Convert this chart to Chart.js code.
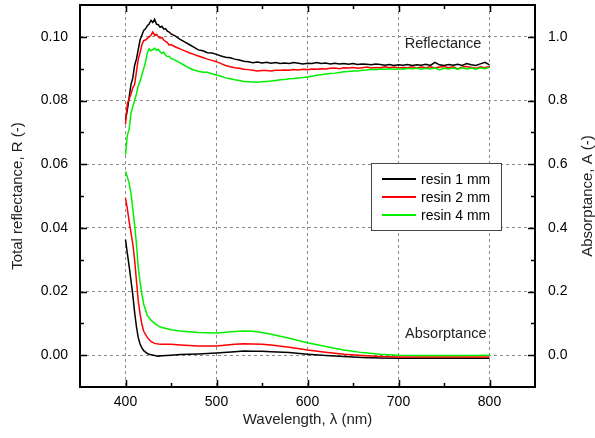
<!DOCTYPE html>
<html>
<head>
<meta charset="utf-8">
<script src="https://cdn.jsdelivr.net/npm/chart.js@4.4.1/dist/chart.umd.min.js"></script>
<style>
  html, body { margin: 0; padding: 0; background: #fff; }
</style>
</head>
<body>
<canvas id="chart" width="595" height="438"></canvas>
<script>
// wavelengths (nm) for the reflectance spectra
const R_WL = [
  400, 402, 404, 406, 408, 410, 412, 414, 416, 418,
  420, 422, 424, 426, 428, 430, 432, 434, 436, 438,
  440, 442, 444, 446, 448, 450,
  455, 460, 465, 470, 475, 480, 485, 490, 495, 500,
  505, 510, 515, 520, 525, 530, 535, 540, 545, 550,
  555, 560, 565, 570, 575, 580, 585, 590, 595, 600,
  605, 610, 615, 620, 625, 630, 635, 640, 645, 650,
  655, 660, 665, 670, 675, 680, 685, 690, 695, 700,
  705, 710, 715, 720, 725, 730, 735, 740, 745, 750,
  755, 760, 765, 770, 775, 780, 785, 790, 795, 800
];

// total reflectance R (-), left axis
const R_1MM = [
  0.0740, 0.0770, 0.0810, 0.0850, 0.0870, 0.0910, 0.0930, 0.0960, 0.0990, 0.1005,
  0.1020, 0.1025, 0.1035, 0.1040, 0.1052, 0.1045, 0.1055, 0.1040, 0.1038, 0.1030,
  0.1033, 0.1024, 0.1026, 0.1018, 0.1015, 0.1009,
  0.1002, 0.0992, 0.0984, 0.0976, 0.0968, 0.0959, 0.0956, 0.0950, 0.0949, 0.0945,
  0.0940, 0.0936, 0.0934, 0.0930, 0.0927, 0.0923, 0.0922, 0.0919, 0.0921, 0.0918,
  0.0920, 0.0917, 0.0919, 0.0916, 0.0918, 0.0916, 0.0919, 0.0917, 0.0915, 0.0917,
  0.0916, 0.0919, 0.0916, 0.0918, 0.0915, 0.0917, 0.0915, 0.0916, 0.0914, 0.0916,
  0.0913, 0.0915, 0.0914, 0.0912, 0.0915, 0.0913, 0.0911, 0.0913, 0.0910, 0.0912,
  0.0911, 0.0913, 0.0910, 0.0912, 0.0911, 0.0914, 0.0910, 0.0920, 0.0912, 0.0910,
  0.0913, 0.0911, 0.0914, 0.0910, 0.0916, 0.0912, 0.0910, 0.0915, 0.0920, 0.0912
];
const R_2MM = [
  0.0725, 0.0790, 0.0805, 0.0820, 0.0840, 0.0850, 0.0890, 0.0930, 0.0950, 0.0975,
  0.0988, 0.0990, 0.0995, 0.1000, 0.1005, 0.1015, 0.1005, 0.1008, 0.1000, 0.0996,
  0.0998, 0.0990, 0.0986, 0.0982, 0.0974, 0.0976,
  0.0968, 0.0962, 0.0956, 0.0950, 0.0945, 0.0940, 0.0935, 0.0930, 0.0926, 0.0922,
  0.0916, 0.0910, 0.0906, 0.0903, 0.0901, 0.0898, 0.0897, 0.0895, 0.0893, 0.0894,
  0.0894, 0.0893, 0.0895, 0.0895, 0.0896, 0.0895, 0.0897, 0.0896, 0.0898, 0.0897,
  0.0899, 0.0898, 0.0900, 0.0899, 0.0901, 0.0902, 0.0900, 0.0903, 0.0902, 0.0904,
  0.0901, 0.0903, 0.0905, 0.0902, 0.0904, 0.0903, 0.0906, 0.0903, 0.0905, 0.0902,
  0.0904, 0.0903, 0.0906, 0.0902, 0.0905, 0.0903, 0.0906, 0.0902, 0.0905, 0.0907,
  0.0903, 0.0906, 0.0899, 0.0905, 0.0907, 0.0904, 0.0901, 0.0906, 0.0903, 0.0907
];
const R_4MM = [
  0.0630, 0.0690, 0.0710, 0.0760, 0.0780, 0.0800, 0.0820, 0.0846, 0.0860, 0.0880,
  0.0900, 0.0920, 0.0950, 0.0962, 0.0956, 0.0960, 0.0964, 0.0958, 0.0961, 0.0953,
  0.0948, 0.0952, 0.0942, 0.0938, 0.0939, 0.0932,
  0.0926, 0.0918, 0.0910, 0.0902, 0.0896, 0.0892, 0.0889, 0.0889, 0.0884, 0.0880,
  0.0876, 0.0871, 0.0868, 0.0865, 0.0863, 0.0860, 0.0859, 0.0858, 0.0857, 0.0859,
  0.0860, 0.0861, 0.0863, 0.0865, 0.0866, 0.0868, 0.0869, 0.0871, 0.0872, 0.0874,
  0.0876, 0.0879, 0.0881, 0.0883, 0.0885, 0.0886, 0.0888, 0.0890, 0.0891, 0.0893,
  0.0893, 0.0895, 0.0896, 0.0898, 0.0897, 0.0899, 0.0898, 0.0900, 0.0898, 0.0900,
  0.0898, 0.0901, 0.0899, 0.0902, 0.0898, 0.0901, 0.0899, 0.0902, 0.0897, 0.0901,
  0.0899, 0.0902, 0.0898, 0.0903, 0.0899, 0.0902, 0.0898, 0.0903, 0.0900, 0.0904
];

// wavelengths (nm) for the absorptance spectra
const A_WL = [
  400, 402, 404, 406, 408, 410, 412, 414, 416, 418, 420,
  424, 428, 432, 436, 440,
  450, 460, 480,
  500, 520, 530, 540, 550, 560,
  580, 600, 620, 640, 660, 680, 700, 720, 740, 760, 780, 800
];

// absorptance A (-), right axis
const A_1MM = [
  0.363, 0.320, 0.280, 0.235, 0.190, 0.135, 0.090, 0.055, 0.035, 0.023, 0.014,
  0.005, 0.001, -0.001, -0.003, -0.002,
  0.000, 0.002, 0.004,
  0.007, 0.011, 0.013, 0.012, 0.012, 0.011,
  0.008, 0.003, -0.001, -0.004, -0.007, -0.009, -0.010, -0.010, -0.010, -0.010, -0.010, -0.010
];
const A_2MM = [
  0.493, 0.460, 0.420, 0.385, 0.350, 0.300, 0.235, 0.171, 0.130, 0.097, 0.075,
  0.055, 0.043, 0.037, 0.035, 0.034,
  0.034, 0.032, 0.029,
  0.029, 0.034, 0.036, 0.035, 0.034, 0.032,
  0.025, 0.016, 0.009, 0.003, -0.001, -0.004, -0.006, -0.006, -0.006, -0.006, -0.006, -0.006
];
const A_4MM = [
  0.577, 0.560, 0.540, 0.510, 0.460, 0.410, 0.350, 0.276, 0.230, 0.192, 0.160,
  0.125, 0.110, 0.100, 0.092, 0.087,
  0.080, 0.076, 0.071,
  0.070, 0.074, 0.076, 0.075, 0.071, 0.066,
  0.053, 0.039, 0.027, 0.016, 0.008, 0.003, 0.000, -0.001, -0.001, -0.001, -0.001, 0.000
];

const SERIES_NAMES = ['resin 1 mm', 'resin 2 mm', 'resin 4 mm'];
const SERIES_COLORS = ['#000000', '#ff0000', '#00f000'];

// tick labels
const X_TICKS = [400, 500, 600, 700, 800];
const X_MINOR = [450, 550, 650, 750];
const R_TICKS = [0.00, 0.02, 0.04, 0.06, 0.08, 0.10];
const R_MINOR = [0.01, 0.03, 0.05, 0.07, 0.09];
const A_TICKS = [0.0, 0.2, 0.4, 0.6, 0.8, 1.0];

const FONT = '"Liberation Sans", Arial, sans-serif';
const pts = (xs, ys) => xs.map((x, i) => ({ x, y: ys[i] }));

function line(name, color, xs, ys, axis, order) {
  return {
    label: name,
    data: pts(xs, ys),
    yAxisID: axis,
    borderColor: color,
    borderWidth: 1.5,
    pointRadius: 0,
    tension: 0,
    fill: false,
    order: order
  };
}

function noPad(s) {
  s.paddingTop = 0;
  s.paddingBottom = 0;
  s.paddingLeft = 0;
  s.paddingRight = 0;
}

// frame, inward tick marks, text labels, right title and legend box
const decor = {
  id: 'decor',
  afterDraw(chart) {
    const { ctx, chartArea: a, scales: { x, y } } = chart;
    ctx.save();
    ctx.strokeStyle = '#000';
    ctx.lineWidth = 1.5;
    ctx.beginPath();
    const tick = (px, len, vertical) => {
      if (vertical) {
        ctx.moveTo(px, a.bottom); ctx.lineTo(px, a.bottom - len);
        ctx.moveTo(px, a.top); ctx.lineTo(px, a.top + len);
      } else {
        ctx.moveTo(a.left, px); ctx.lineTo(a.left + len, px);
        ctx.moveTo(a.right, px); ctx.lineTo(a.right - len, px);
      }
    };
    X_TICKS.forEach(v => tick(Math.round(x.getPixelForValue(v)) + 0.5, 7, true));
    X_MINOR.forEach(v => tick(Math.round(x.getPixelForValue(v)) + 0.5, 4, true));
    R_TICKS.forEach(v => tick(Math.round(y.getPixelForValue(v)) + 0.5, 7, false));
    R_MINOR.forEach(v => tick(Math.round(y.getPixelForValue(v)) + 0.5, 4, false));
    ctx.stroke();

    ctx.lineWidth = 2;
    ctx.strokeRect(a.left, a.top, a.right - a.left, a.bottom - a.top);

    ctx.fillStyle = '#222';
    ctx.font = '14.5px ' + FONT;
    ctx.textAlign = 'center';
    ctx.textBaseline = 'middle';
    ctx.fillText('Reflectance', x.getPixelForValue(749), y.getPixelForValue(0.0978));
    ctx.fillText('Absorptance', x.getPixelForValue(752), y.getPixelForValue(0.0066));

    // right axis title, read bottom to top like the left one
    ctx.save();
    ctx.translate(588, (a.top + a.bottom) / 2);
    ctx.rotate(-Math.PI / 2);
    ctx.font = '15px ' + FONT;
    ctx.fillText('Absorptance, A (-)', 0, 0);
    ctx.restore();

    // legend
    const lx = 371, ly = 163, lw = 130, lh = 67;
    ctx.fillStyle = '#fff';
    ctx.fillRect(lx, ly, lw, lh);
    ctx.strokeStyle = '#444';
    ctx.lineWidth = 1;
    ctx.strokeRect(lx + 0.5, ly + 0.5, lw, lh);
    ctx.font = '14px ' + FONT;
    ctx.textAlign = 'left';
    SERIES_NAMES.forEach((name, i) => {
      const yy = ly + 16 + i * 18;
      ctx.strokeStyle = SERIES_COLORS[i];
      ctx.lineWidth = 2;
      ctx.beginPath();
      ctx.moveTo(382, yy);
      ctx.lineTo(416, yy);
      ctx.stroke();
      ctx.fillStyle = '#000';
      ctx.fillText(name, 421, yy + 1);
    });
    ctx.restore();
  }
};

new Chart(document.getElementById('chart'), {
  type: 'line',
  data: {
    datasets: [
      line(SERIES_NAMES[0], SERIES_COLORS[0], R_WL, R_1MM, 'y', 2),
      line(SERIES_NAMES[1], SERIES_COLORS[1], R_WL, R_2MM, 'y', 1),
      line(SERIES_NAMES[2], SERIES_COLORS[2], R_WL, R_4MM, 'y', 0),
      line(SERIES_NAMES[0], SERIES_COLORS[0], A_WL, A_1MM, 'y2', 2),
      line(SERIES_NAMES[1], SERIES_COLORS[1], A_WL, A_2MM, 'y2', 1),
      line(SERIES_NAMES[2], SERIES_COLORS[2], A_WL, A_4MM, 'y2', 0)
    ]
  },
  options: {
    responsive: false,
    animation: false,
    devicePixelRatio: 1,
    layout: { padding: { top: 5, left: 0, right: 0, bottom: 0 } },
    plugins: { legend: { display: false }, tooltip: { enabled: false } },
    scales: {
      x: {
        type: 'linear',
        min: 350,
        max: 850,
        afterBuildTicks: s => { s.ticks = X_TICKS.map(v => ({ value: v })); },
        afterFit: s => { s.height = 51; noPad(s); },
        ticks: { color: '#000', font: { family: FONT, size: 14 }, padding: 7, maxRotation: 0, autoSkip: false },
        grid: { color: '#8a8a8a', lineWidth: 1, drawTicks: false },
        border: { display: false, dash: [3, 3] },
        title: {
          display: true, text: 'Wavelength, \u03bb (nm)', color: '#222',
          font: { family: FONT, size: 15, lineHeight: 1 }, padding: { top: 0, bottom: 10.5 }
        }
      },
      y: {
        position: 'left',
        min: -0.01,
        max: 0.11,
        afterBuildTicks: s => { s.ticks = R_TICKS.map(v => ({ value: v })); },
        afterFit: s => { s.width = 80; noPad(s); },
        ticks: { color: '#000', font: { family: FONT, size: 14 }, padding: 12, autoSkip: false, callback: v => v.toFixed(2) },
        grid: { color: '#8a8a8a', lineWidth: 1, drawTicks: false },
        border: { display: false, dash: [3, 3] },
        title: {
          display: true, text: 'Total reflectance, R (-)', color: '#222',
          font: { family: FONT, size: 15, lineHeight: 1 }, padding: { top: 10.5, bottom: 0 }
        }
      },
      y2: {
        position: 'right',
        min: -0.1,
        max: 1.1,
        afterBuildTicks: s => { s.ticks = A_TICKS.map(v => ({ value: v })); },
        afterFit: s => { s.width = 60; noPad(s); },
        ticks: { color: '#000', font: { family: FONT, size: 14 }, padding: 13, autoSkip: false, callback: v => v.toFixed(1) },
        grid: { display: false, drawTicks: false },
        border: { display: false },
        title: { display: false }
      }
    }
  },
  plugins: [decor]
});
</script>
</body>
</html>
